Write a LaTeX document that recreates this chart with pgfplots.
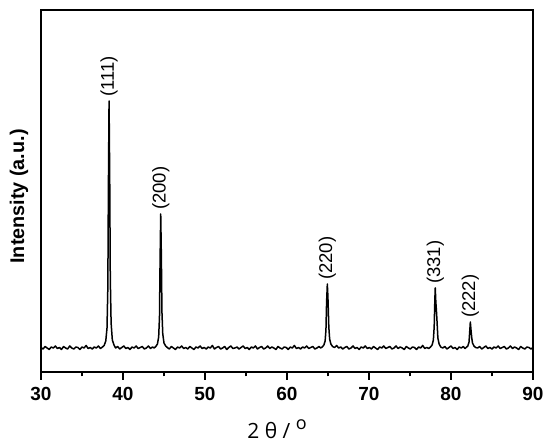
\documentclass[border=0pt]{standalone}
\usepackage{fontspec}
\setmainfont{Liberation Sans}
\newfontfamily\xlfont{Open Sans}
\usepackage{pgfplots}
\pgfplotsset{compat=1.18}
\begin{document}
\begin{tikzpicture}
\useasboundingbox (-41pt,-74pt) rectangle (509pt,372pt);
\begin{axis}[
  at={(0,0)}, anchor=south west,
  scale only axis, width=492pt, height=362pt,
  xmin=30, xmax=90, ymin=0, ymax=362,
  ytick=\empty,
  xtick={30,40,...,90}, minor x tick num=1,
  xtick pos=bottom, tick align=outside,
  major tick length=8pt, minor tick length=4.5pt,
  every tick/.style={black, line width=1.3pt},
  axis line style={black, line width=1.4pt},
  /pgf/number format/assume math mode=true,
  xticklabel style={font=\fontsize{19}{20}\selectfont\bfseries, yshift=-4pt},
  xlabel={\xlfont 2 θ / \raisebox{0.45em}{\fontsize{18}{18}\selectfont o}},
  every axis x label/.style={at={(axis description cs:0.5,0)}, anchor=center, yshift=-57pt, font=\fontsize{21}{22}\selectfont, xshift=-10pt},
  ylabel={Intensity (a.u.)},
  every axis y label/.style={at={(axis description cs:0,0.485)}, rotate=90, anchor=center, yshift=22pt, font=\fontsize{19.8}{21}\selectfont\bfseries},
  clip=false,
]
\addplot[black, line width=1.5pt, line join=round] table {
x y
30.00 24.5
30.25 23
30.50 25.5
30.75 24
31.00 22.5
31.25 25
31.50 24
31.75 26
32.00 23.5
32.25 24.5
32.50 22.5
32.75 25.5
33.00 24
33.25 23
33.50 26
33.75 24
34.00 23
34.25 25
34.50 24.5
34.75 22.5
35.00 25
35.25 24
35.50 26.5
35.75 23.5
36.00 24.5
36.25 23
36.50 25
36.75 24
37.00 26
37.25 23.5
37.50 25
37.70 26.5
37.90 31
38.05 44
38.15 84
38.22 184
38.30 271
38.38 194
38.45 94
38.55 49
38.70 32
38.90 27
39.10 24
39.35 25.5
39.60 23
39.85 24.5
40.10 26
40.35 23.5
40.60 24.5
40.85 22.5
41.10 25
41.35 24
41.60 26
41.85 23.5
42.10 24.5
42.35 25.5
42.60 23
42.85 24
43.10 26
43.35 23.5
43.60 25
43.80 24
44.00 25.5
44.20 28
44.35 35
44.45 55
44.52 110
44.60 158
44.68 115
44.75 60
44.85 38
45.00 29
45.20 26
45.40 24.5
45.65 23
45.90 25.5
46.15 24
46.40 22.5
46.65 25
46.90 24
47.15 26
47.40 23.5
47.65 24.5
47.90 23
48.15 25.5
48.40 24
48.65 22.5
48.90 25
49.15 24
49.40 26
49.65 23.5
49.90 24.5
50.15 23
50.40 25
50.65 24
50.90 26.5
51.15 23
51.40 24.5
51.65 25.5
51.90 23
52.15 24
52.40 25.5
52.65 22.5
52.90 24.5
53.15 26
53.40 23.5
53.65 24
53.90 25
54.15 23
54.40 24.5
54.65 26
54.90 23.5
55.15 24.5
55.40 22.5
55.65 25
55.90 24
56.15 26
56.40 23
56.65 24.5
56.90 25.5
57.15 23
57.40 24
57.65 26
57.90 23.5
58.15 25
58.40 24
58.65 22.5
58.90 25.5
59.15 24
59.40 23
59.65 25
59.90 24.5
60.15 22.5
60.40 25
60.65 24
60.90 26.5
61.15 23.5
61.40 24.5
61.65 23
61.90 25
62.15 24
62.40 26
62.65 23.5
62.90 24.5
63.15 25.5
63.40 23
63.65 24
63.90 25.5
64.10 24
64.30 25
64.50 27
64.65 31
64.75 42
64.83 70
64.92 88
64.99 75
65.04 62
65.10 45
65.20 33
65.35 28
65.55 25.5
65.80 24.5
66.05 26.5
66.30 24
66.55 25
66.80 23
67.05 24.5
67.30 25.5
67.55 23
67.80 24
68.05 26
68.30 23.5
68.55 24.5
68.80 22.5
69.05 25
69.30 24
69.55 26
69.80 23.5
70.05 24.5
70.30 23
70.55 25.5
70.80 24
71.05 22.5
71.30 25
71.55 24
71.80 26
72.05 23.5
72.30 24.5
72.55 25.5
72.80 23
73.05 24
73.30 26
73.55 23.5
73.80 25
74.05 24
74.30 22.5
74.55 25.5
74.80 24
75.05 23
75.30 25
75.55 24.5
75.80 22.5
76.05 25
76.30 24
76.55 26.5
76.80 23.5
77.05 24.5
77.30 23.5
77.50 25
77.70 27
77.85 32
77.95 45
78.03 72
78.08 84
78.15 70
78.22 62
78.30 50
78.40 34
78.55 28
78.75 25
79.00 24
79.25 25.5
79.50 23
79.75 24.5
80.00 26
80.25 23.5
80.50 24.5
80.75 22.5
81.00 25
81.25 24
81.50 25.5
81.70 23.5
81.85 24.5
82.05 26
82.20 30
82.28 40
82.36 50
82.44 42
82.52 35
82.62 29
82.80 26
83.00 24.5
83.25 24
83.50 25.5
83.75 23
84.00 24.5
84.25 26
84.50 23.5
84.75 24.5
85.00 23
85.25 25
85.50 24
85.75 26
86.00 23.5
86.25 24.5
86.50 25.5
86.75 23
87.00 24
87.25 26
87.50 23.5
87.75 25
88.00 24
88.25 22.5
88.50 25.5
88.75 24
89.00 23
89.25 25
89.50 24.5
89.75 23
90.00 24.5
};
\begin{scope}[every node/.style={rotate=90, anchor=west, inner sep=0pt, font=\fontsize{18.5}{20}\selectfont}]
\node at (axis cs:38.30,275) {(111)};
\node at (axis cs:44.60,162) {(200)};
\node at (axis cs:64.92,92) {(220)};
\node at (axis cs:78.08,88) {(331)};
\node at (axis cs:82.36,54) {(222)};
\end{scope}
\end{axis}
\end{tikzpicture}
\end{document}
